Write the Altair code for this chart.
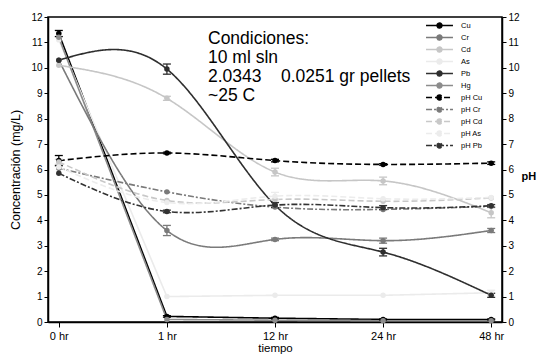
import altair as alt
import pandas as pd

# ---------------- data ----------------
times = ["0 hr", "1 hr", "12 hr", "24 hr", "48 hr"]
series = ["Cu", "Cr", "Cd", "As", "Pb", "Hg", "pH Cu", "pH Cr", "pH Cd", "pH As", "pH Pb"]

cu = [11.35, 0.22, 0.15, 0.10, 0.10]
cr = [10.30, 3.60, 3.25, 3.20, 3.60]
cd = [10.10, 8.80, 5.90, 5.55, 4.30]
as_ = [11.10, 1.00, 1.05, 1.05, 1.15]
pb = [10.30, 9.95, 4.60, 2.75, 1.05]
hg = [11.20, 0.10, 0.07, 0.05, 0.05]

ph_cu = [6.35, 6.65, 6.35, 6.20, 6.25]
ph_cr = [6.05, 5.12, 4.52, 4.43, 4.55]
ph_cd = [6.30, 4.78, 4.82, 4.75, 4.88]
ph_as = [6.10, 4.70, 4.95, 4.85, 4.90]
ph_pb = [5.85, 4.35, 4.60, 4.50, 4.57]

cu_err = [0.12, 0.03, 0.03, 0.02, 0.02]
cr_err = [0.00, 0.20, 0.05, 0.10, 0.08]
cd_err = [0.00, 0.08, 0.15, 0.15, 0.20]
as_err = [0.00, 0.00, 0.00, 0.00, 0.10]
pb_err = [0.00, 0.20, 0.00, 0.15, 0.08]
hg_err = [0.00, 0.00, 0.00, 0.00, 0.00]
ph_cu_err = [0.20, 0.03, 0.05, 0.03, 0.05]
ph_cr_err = [0.00, 0.00, 0.00, 0.00, 0.00]
ph_cd_err = [0.10, 0.00, 0.00, 0.00, 0.00]
ph_as_err = [0.00, 0.00, 0.15, 0.00, 0.00]
ph_pb_err = [0.00, 0.05, 0.10, 0.08, 0.05]

values = [cu, cr, cd, as_, pb, hg, ph_cu, ph_cr, ph_cd, ph_as, ph_pb]
errors = [cu_err, cr_err, cd_err, as_err, pb_err, hg_err,
          ph_cu_err, ph_cr_err, ph_cd_err, ph_as_err, ph_pb_err]
kinds = ["conc"] * 6 + ["ph"] * 5
interps = ["linear", "natural", "natural", "linear", "natural", "linear",
           "natural", "natural", "natural", "natural", "natural"]

colors = ["#000000", "#7a7a7a", "#c6c6c6", "#ebebeb", "#2e2e2e", "#8c8c8c",
          "#000000", "#7a7a7a", "#c8c8c8", "#ececec", "#333333"]
dashes = [[1, 0]] * 6 + [[6, 3], [6, 2, 2, 2], [6, 3], [6, 3], [6, 2, 2, 2]]

NB = "\u00a0"
annotation = ["Condiciones:", "10 ml sln", "2.0343" + NB * 4 + "0.0251 gr pellets", "~25 C"]

rows = []
for s, vals, errs, k, ip in zip(series, values, errors, kinds, interps):
    for i, (v, e) in enumerate(zip(vals, errs)):
        rows.append({"series": s, "t": i, "v": v, "err": e, "lo": v - e, "hi": v + e,
                     "kind": k, "interp": ip})
df = pd.DataFrame(rows)

FONT = "Liberation Sans"

# ---------------- scales / axes ----------------
x_scale = alt.Scale(domain=[-0.1, 4.1], nice=False, zero=False)
label_expr = "[" + ",".join("'%s'" % t for t in times) + "][datum.value]"
x_axis = alt.Axis(values=[0, 1, 2, 3, 4], labelExpr=label_expr, title="tiempo", grid=False,
                  tickSize=5, labelFontSize=11, labelPadding=3, titleFontSize=11.5,
                  titleFontWeight="normal", titlePadding=1, labelFont=FONT, titleFont=FONT,
                  domainColor="black", tickColor="black", labelColor="black",
                  titleColor="black", domainWidth=1.5)
y_scale = alt.Scale(domain=[0, 12], nice=False, zero=True)

y_left = alt.Axis(title="Concentración (mg/L)", values=list(range(13)), grid=False, tickSize=4,
                  labelFontSize=10, labelFont=FONT, titleFont=FONT, titleFontSize=12.5,
                  titleFontWeight="normal", titlePadding=8, domainColor="black",
                  tickColor="black", labelColor="black", titleColor="black", domainWidth=1.5)
y_right = alt.Axis(orient="right", title="pH", values=list(range(13)), grid=False, tickSize=4,
                   labelFontSize=10, labelFont=FONT, titleFont=FONT, titleFontSize=11,
                   titleFontWeight="bold", titleAngle=0, titleAlign="left",
                   titleBaseline="middle", titleX=19, titleY=159, domainColor="black",
                   tickColor="black", labelColor="black", titleColor="black", domainWidth=1.5)

sym_path = "M-2.45,0H2.45M-0.45,0A0.45,0.45,0,1,0,0.45,0A0.45,0.45,0,1,0,-0.45,0"
legend = alt.Legend(title=None, orient="none", legendX=385, legendY=2, symbolType=sym_path,
                    symbolSize=121, symbolStrokeWidth=1.5, labelFontSize=7.5, labelFont=FONT,
                    labelColor="black", labelOffset=15, rowPadding=0, padding=0,
                    labelLimit=100)

color_enc = alt.Color("series:N", scale=alt.Scale(domain=series, range=colors), legend=legend)
dash_enc = alt.StrokeDash("series:N", scale=alt.Scale(domain=series, range=dashes), legend=legend)
fill_enc = alt.Fill("series:N", scale=alt.Scale(domain=series, range=colors), legend=None)
stroke_enc = alt.Stroke("series:N", scale=alt.Scale(domain=series, range=colors), legend=None)

X = alt.X("t:Q", scale=x_scale, axis=x_axis)


def group(kind, axis):
    d = df[df["kind"] == kind]
    de = d[d["err"] > 0]
    yv = alt.Y("v:Q", scale=y_scale, axis=axis)
    layers = []
    for ip in ["linear", "natural"]:
        dd = d[d["interp"] == ip]
        if len(dd):
            layers.append(alt.Chart(dd).mark_line(interpolate=ip, strokeWidth=1.6).encode(
                x=X, y=yv, color=color_enc, strokeDash=dash_enc, detail="series:N"))
    if len(de):
        layers.append(alt.Chart(de).mark_rule(strokeWidth=1.3).encode(
            x=X, y=alt.Y("lo:Q", scale=y_scale, axis=axis), y2="hi:Q", stroke=stroke_enc))
        for f in ["lo", "hi"]:
            layers.append(alt.Chart(de).mark_rule(strokeWidth=1.3, xOffset=-4, x2Offset=4).encode(
                x=X, x2="t:Q", y=alt.Y(f + ":Q", scale=y_scale, axis=axis), stroke=stroke_enc))
    layers.append(alt.Chart(d).mark_circle(size=30, opacity=1).encode(
        x=X, y=yv, fill=fill_enc))
    return layers


conc_layers = group("conc", y_left)
text = alt.Chart(pd.DataFrame({"a": [0]})).mark_text(
    align="left", baseline="top", fontSize=17.5, lineHeight=19, font=FONT, color="black"
).encode(x=alt.value(160), y=alt.value(13), text=alt.value(annotation))
conc = alt.layer(*conc_layers, text)
ph = alt.layer(*group("ph", y_right))

chart = alt.layer(conc, ph).resolve_scale(y="independent").properties(
    width=454, height=305,
    autosize=alt.AutoSizeParams(type="none"),
    padding={"left": 40, "top": 9, "right": 36, "bottom": 32},
).configure_view(stroke="black", strokeWidth=1.5)

chart.save("out.html", embed_options={"renderer": "svg", "actions": False})
